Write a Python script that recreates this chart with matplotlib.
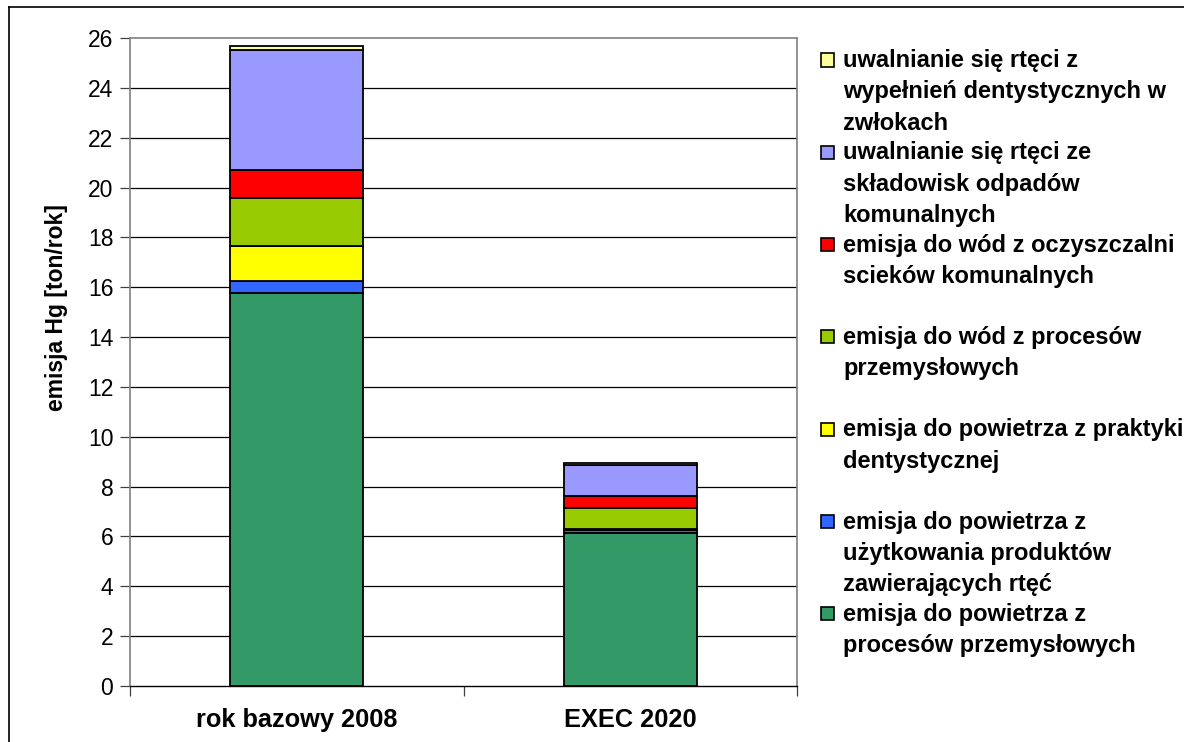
import numpy as np
import matplotlib.pyplot as plt
from matplotlib.patches import Rectangle
from matplotlib.lines import Line2D

plt.rcParams['font.family'] = ['Liberation Sans', 'DejaVu Sans']

categories = ['rok bazowy 2008', 'EXEC 2020']

# series in stacking order (bottom -> top)
series_names = [
    'emisja do powietrza z\nprocesów przemysłowych',
    'emisja do powietrza z\nużytkowania produktów\nzawierających rtęć',
    'emisja do powietrza z praktyki\ndentystycznej',
    'emisja do wód z procesów\nprzemysłowych',
    'emisja do wód z oczyszczalni\nscieków komunalnych',
    'uwalnianie się rtęci ze\nskładowisk odpadów\nkomunalnych',
    'uwalnianie się rtęci z\nwypełnień dentystycznych w\nzwłokach',
]
series_values = [
    [15.78, 6.12],
    [0.48, 0.15],
    [1.41, 0.02],
    [1.90, 0.87],
    [1.14, 0.48],
    [4.81, 1.23],
    [0.16, 0.08],
]
colors = ['#339966', '#3366FF', '#FFFF00', '#99CC00', '#FF0000', '#9999FF', '#FFFF99']

W, H = 1184, 742
fig = plt.figure(figsize=(W / 100, H / 100), dpi=100)
ax = fig.add_axes([130 / W, (H - 686) / H, 667 / W, (686 - 38) / H])

x = np.arange(len(categories))
bottom = np.zeros(len(categories))
for vals, col in zip(series_values, colors):
    ax.bar(x, vals, 0.4, bottom=bottom, color=col, edgecolor='black', linewidth=1.3, zorder=3)
    bottom += np.array(vals)

ax.set_xlim(-0.5, 1.5)
ax.set_ylim(0, 26)
ax.set_yticks(np.arange(0, 27, 2))
for v in np.arange(2, 26, 2):
    ax.axhline(v, color='black', linewidth=0.9, zorder=1)

ax.set_xticks(x)
ax.set_xticklabels(categories, fontsize=18.3, fontweight='bold')
ax.set_xticks([-0.5, 0.5, 1.5], minor=True)
ax.tick_params(axis='x', which='major', length=0, pad=16)
ax.tick_params(axis='x', which='minor', length=7, width=0.9, color='#404040')
ax.tick_params(axis='y', length=7, width=0.9, labelsize=16.5, pad=5, color='#404040')

fig.text(57 / W, 1 - 308 / H, 'emisja Hg [ton/rok]', rotation=90, fontsize=16.5,
         fontweight='bold', ha='center', va='center')

for s in ['left', 'right', 'top']:
    ax.spines[s].set_color('#808080')
    ax.spines[s].set_linewidth(1.2)
ax.spines['bottom'].set_color('black')
ax.spines['bottom'].set_linewidth(1.0)

# hand-made legend, top entry is the last series
slot = 92.3
for i, (name, col) in enumerate(zip(series_names[::-1], colors[::-1])):
    yc = 60 + i * slot
    fig.add_artist(Rectangle((821 / W, 1 - (yc + 6.5) / H), 13 / W, 13 / H,
                             transform=fig.transFigure, facecolor=col,
                             edgecolor='black', linewidth=1.2))
    fig.text(843 / W, 1 - (yc - 11) / H, name, fontsize=17, fontweight='bold',
             va='top', ha='left', linespacing=1.47)

# outer frame (top and left edges)
fig.add_artist(Line2D([9 / W, 9 / W], [0, 1 - 7 / H], transform=fig.transFigure, color='black', lw=1.2))
fig.add_artist(Line2D([9 / W, 1], [1 - 7 / H, 1 - 7 / H], transform=fig.transFigure, color='black', lw=1.2))

fig.savefig('out.png', dpi=100)
